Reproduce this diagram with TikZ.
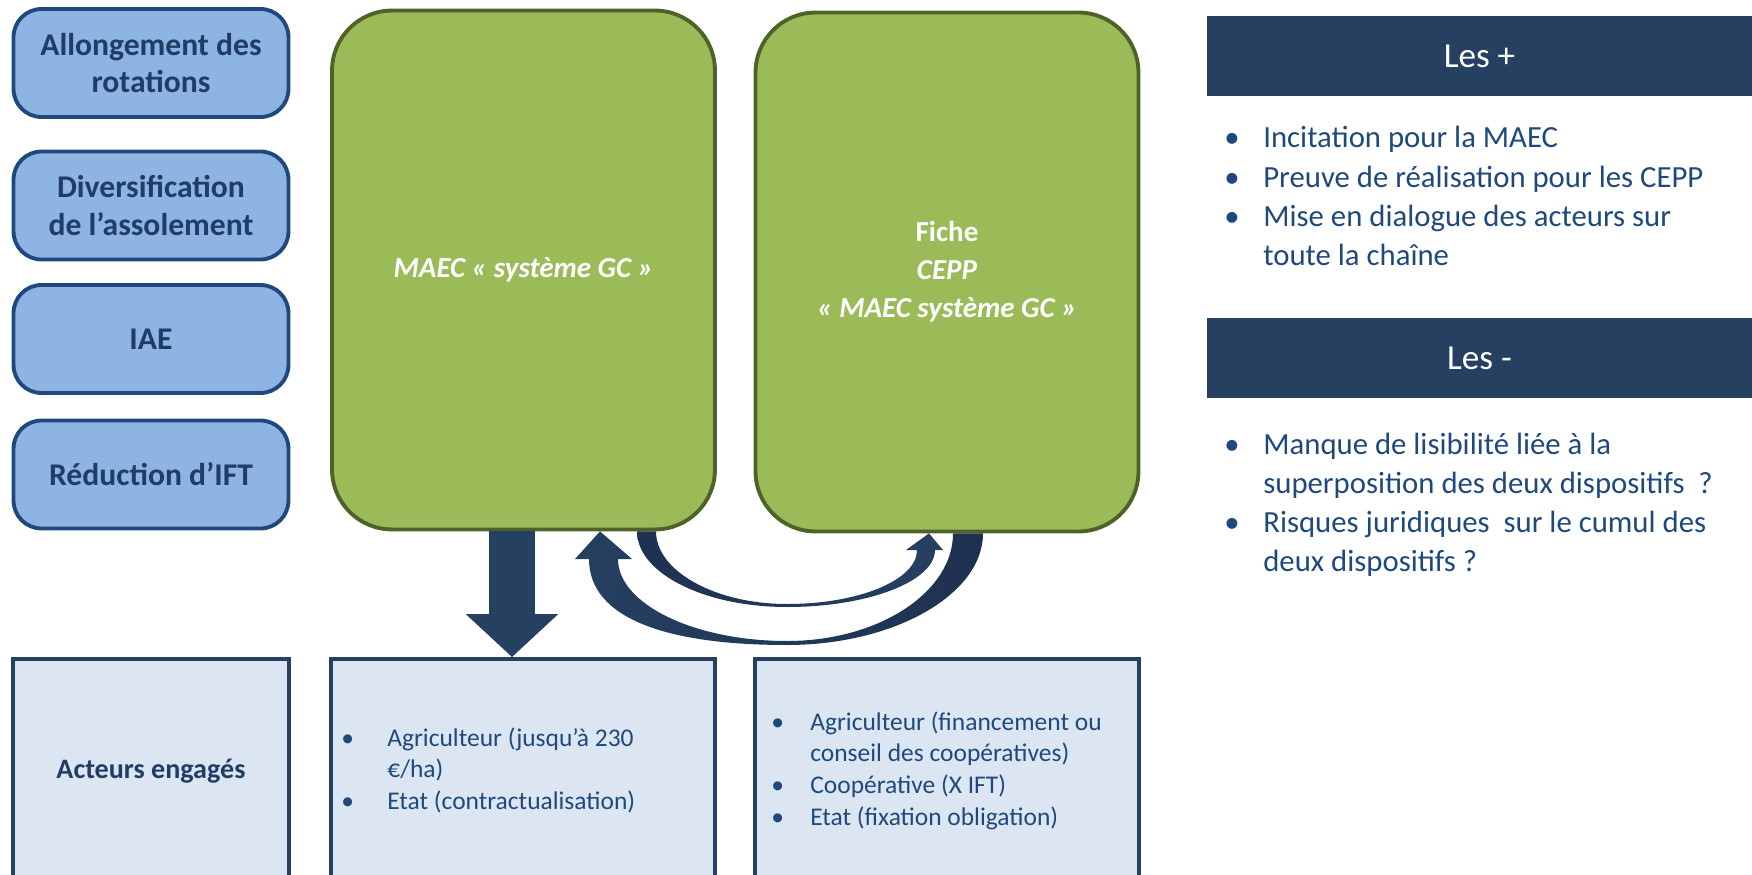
\documentclass[tikz,border=0pt]{standalone}
\usepackage{fontspec}
\setmainfont{Carlito}
\usetikzlibrary{arrows.meta,positioning,calc}
\definecolor{goalfill}{HTML}{8EB4E3}
\definecolor{navy}{HTML}{1F497D}
\definecolor{ink}{HTML}{203D66}
\definecolor{leaf}{HTML}{9BBB59}
\definecolor{olive}{HTML}{4F6228}
\definecolor{pale}{HTML}{DCE6F2}
\definecolor{band}{HTML}{264061}
\definecolor{banddark}{HTML}{1E3150}
\tikzset{
  goal/.style={draw=navy, fill=goalfill, rounded corners=0.56cm, line width=2.2pt,
               minimum width=5.5cm, minimum height=2.16cm, align=center, text=ink,
               font=\fontsize{18}{21.6}\selectfont\bfseries},
  scheme/.style={draw=olive, fill=leaf, rounded corners=1.2cm, line width=2.2pt,
                 minimum width=7.66cm, minimum height=10.38cm, align=center, text=white,
                 font=\fontsize{16.5}{21.6}\selectfont\bfseries},
  actor/.style={draw=band, fill=pale, line width=2.2pt, minimum height=4.48cm,
                text=ink, font=\fontsize{16}{19}\selectfont\bfseries},
  header/.style={fill=band, minimum width=10.9cm, minimum height=1.6cm, text=white,
                 font=\fontsize{20}{24}\selectfont},
  points/.style={anchor=base west, inner sep=0pt, text=navy,
                 font=\fontsize{17.5}{22.2}\selectfont},
  actors/.style={anchor=base west, inner sep=0pt, text=navy,
                 font=\fontsize{14.5}{18.2}\selectfont},
  downarrow/.style={draw=band, line width=0.92cm, -{Triangle[length=0.86cm,width=1.8cm]}}
}
\begin{document}
\begin{tikzpicture}[x=0.02cm,y=-0.02cm]
  \useasboundingbox (0,0) rectangle (1752,875);
  \clip (0,0) rectangle (1752,875);
  % levers
  \foreach \y/\lab/\nm in {63/{Allongement des\\rotations}/rot,205.5/{Diversification\\de l’assolement}/assol,
                           339/{IAE}/iae,474.5/{Réduction d’IFT}/ift} {
    \node[goal] (\nm) at (151,\y) {\lab};
  }
  % the two schemes
  \node[scheme] (maec) at (523.5,270) {\itshape MAEC « système GC »};
  \node[scheme] (cepp) at (947,272) {Fiche\\\textit{CEPP}\\\textit{« MAEC système GC »}};
  % actors row
  \node[actor,minimum width=5.52cm] (who) at (151,771) {Acteurs engagés};
  \node[actor,minimum width=7.68cm] (maecact) at (523,771) {};
  \node[actor,minimum width=7.68cm] (ceppact) at (947,771) {};
  \node[actors] (maeclist) at (341,746) {\begin{tabular}[t]{@{}p{0.92cm}@{}l@{}}
      •&Agriculteur (jusqu’à 230\\&€/ha)\\•&Etat (contractualisation)\end{tabular}};
  \node[actors] (cepplist) at (771,730) {\begin{tabular}[t]{@{}p{0.78cm}@{}l@{}}
      •&Agriculteur (financement ou\\&conseil des coopératives)\\
      •&Coopérative (X IFT)\\•&Etat (fixation obligation)\end{tabular}};
  % arrows
  \draw[downarrow] ($(maec.south)+(-11.5,0)$) -- ($(maecact.north)+(-11,0)$);
  \shade[left color=band,right color=banddark]
    ($(cepp.south)+(36,0)$) .. controls (983,594) and (895,645) .. (787,645)
    .. controls (668,645) and (589,619) .. (589,559)
    -- (575,559) -- ($(maec.south)+(76.5,0)$) -- (632,559) -- (618,559)
    .. controls (618,604) and (694,641) .. (787,641)
    .. controls (879,641) and (953,592) .. ($(cepp.south)+(6,0)$) -- cycle;
  \shade[left color=banddark,right color=band]
    ($(maec.south)+(113.5,0)$) .. controls (637,573) and (704,607) .. (787,607)
    .. controls (869,607) and (935,581) .. (935,550)
    -- (943,550) -- ($(cepp.south)+(-18,0)$) -- (906,550) -- (917,550)
    .. controls (917,580) and (859,604) .. (787,604)
    .. controls (715,604) and (656,571) .. ($(maec.south)+(132.5,0)$) -- cycle;
  % pros and cons
  \node[header] (plus) at (1479.5,56) {Les +};
  \node[points] (pluslist) at (1224,148) {\begin{tabular}[t]{@{}p{0.78cm}@{}l@{}}
      •&Incitation pour la MAEC\\•&Preuve de réalisation pour les CEPP\\
      •&Mise en dialogue des acteurs sur\\&toute la chaîne\end{tabular}};
  \node[header] (minus) at (1479.5,358) {Les -};
  \node[points] (minuslist) at (1224,454) {\begin{tabular}[t]{@{}p{0.78cm}@{}l@{}}
      •&Manque de lisibilité liée à la\\&superposition des deux dispositifs\ \ ?\\
      •&Risques juridiques\ \ sur le cumul des\\&deux dispositifs ?\end{tabular}};
\end{tikzpicture}
\end{document}
